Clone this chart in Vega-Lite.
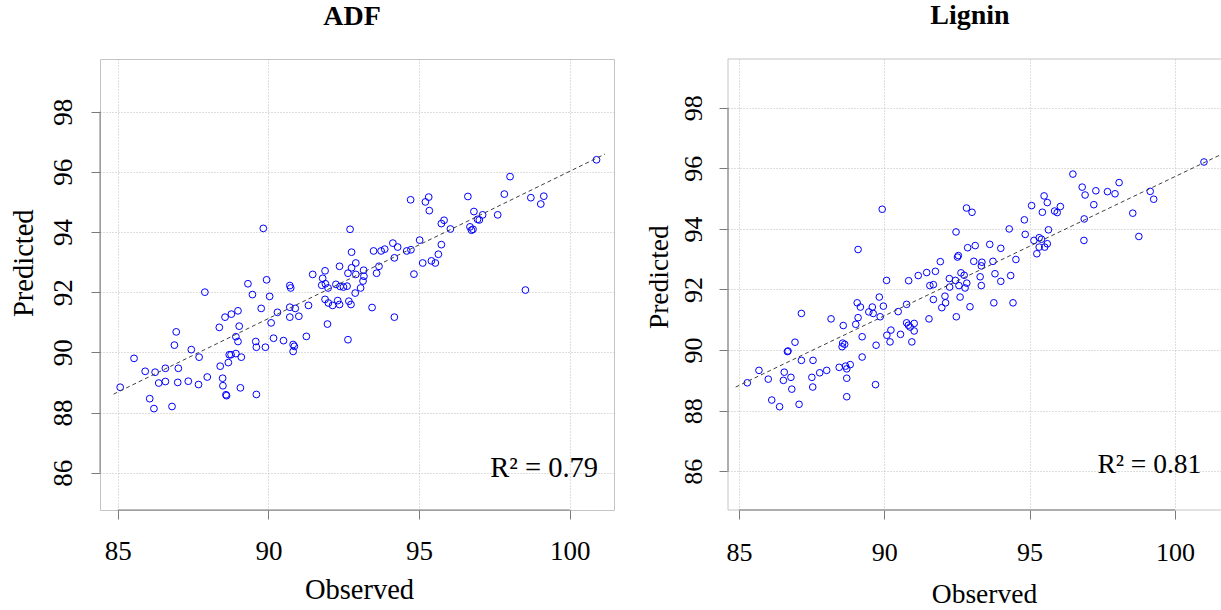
{
  "$schema": "https://vega.github.io/schema/vega-lite/v6.json",
  "background": "white",
  "padding": {"left": 8, "top": 2, "right": 0, "bottom": 0},
  "bounds": "flush",
  "spacing": 114,
  "config": {
    "font": "Liberation Serif",
    "view": {"stroke": "#c4c4c4"},
    "axis": {
      "labelFont": "Liberation Serif",
      "titleFont": "Liberation Serif",
      "labelColor": "#000000",
      "titleColor": "#000000",
      "titleFontWeight": "normal",
      "domain": false,
      "tickColor": "#7a7a7a",
      "tickSize": 9,
      "tickWidth": 1,
      "grid": true,
      "gridColor": "#bdbdbd",
      "gridDash": [1, 2],
      "gridWidth": 1,
      "labelFlush": false,
      "labelOverlap": false
    },
    "axisX": {"labelAngle": 0, "labelAlign": "center", "labelBaseline": "alphabetic", "titleBaseline": "alphabetic", "titleAlign": "center"},
    "axisY": {"labelAngle": -90, "labelAlign": "center", "labelBaseline": "alphabetic", "titleAngle": -90, "titleBaseline": "alphabetic", "titleAlign": "center"},
    "title": {"font": "Liberation Serif", "fontSize": 28, "fontWeight": "bold", "color": "#000000", "baseline": "alphabetic", "anchor": "middle", "frame": "group"}
  },
  "datasets": {
    "one": [{}],
    "adf": [
      {"obs": 89.83, "pred": 94.12}, {"obs": 92.71, "pred": 94.09}, {"obs": 92.76, "pred": 93.33}, {"obs": 92.36, "pred": 92.86},
      {"obs": 92.90, "pred": 92.97}, {"obs": 92.76, "pred": 92.81}, {"obs": 91.88, "pred": 92.71}, {"obs": 91.47, "pred": 92.59},
      {"obs": 92.64, "pred": 92.63}, {"obs": 92.90, "pred": 92.59}, {"obs": 91.80, "pred": 92.46}, {"obs": 89.94, "pred": 92.41},
      {"obs": 89.32, "pred": 92.28}, {"obs": 90.71, "pred": 92.22}, {"obs": 90.74, "pred": 92.14}, {"obs": 91.77, "pred": 92.23},
      {"obs": 91.89, "pred": 92.28}, {"obs": 91.98, "pred": 92.14}, {"obs": 92.24, "pred": 92.26}, {"obs": 92.38, "pred": 92.19},
      {"obs": 92.49, "pred": 92.17}, {"obs": 92.61, "pred": 92.20}, {"obs": 92.88, "pred": 91.97}, {"obs": 87.89, "pred": 92.00},
      {"obs": 89.47, "pred": 91.92}, {"obs": 90.04, "pred": 91.86}, {"obs": 91.88, "pred": 91.76}, {"obs": 91.99, "pred": 91.64},
      {"obs": 92.13, "pred": 91.56}, {"obs": 92.30, "pred": 91.72}, {"obs": 92.36, "pred": 91.59}, {"obs": 92.67, "pred": 91.70},
      {"obs": 92.74, "pred": 91.59}, {"obs": 89.76, "pred": 91.46}, {"obs": 88.99, "pred": 91.38}, {"obs": 88.77, "pred": 91.27},
      {"obs": 88.56, "pred": 91.17}, {"obs": 90.30, "pred": 91.33}, {"obs": 90.71, "pred": 91.50}, {"obs": 90.89, "pred": 91.46},
      {"obs": 90.71, "pred": 91.17}, {"obs": 91.01, "pred": 91.20}, {"obs": 91.33, "pred": 91.56}, {"obs": 88.37, "pred": 90.83},
      {"obs": 89.03, "pred": 90.87}, {"obs": 90.09, "pred": 90.98}, {"obs": 91.96, "pred": 90.94}, {"obs": 86.94, "pred": 90.68},
      {"obs": 86.88, "pred": 90.24}, {"obs": 88.92, "pred": 90.52}, {"obs": 88.99, "pred": 90.36}, {"obs": 89.58, "pred": 90.36},
      {"obs": 89.60, "pred": 90.17}, {"obs": 89.90, "pred": 90.17}, {"obs": 90.17, "pred": 90.47}, {"obs": 90.50, "pred": 90.39},
      {"obs": 90.82, "pred": 90.26}, {"obs": 90.86, "pred": 90.20}, {"obs": 90.82, "pred": 90.03}, {"obs": 91.26, "pred": 90.53},
      {"obs": 92.64, "pred": 90.42}, {"obs": 87.44, "pred": 90.09}, {"obs": 87.70, "pred": 89.84}, {"obs": 85.54, "pred": 89.80},
      {"obs": 88.70, "pred": 89.92}, {"obs": 88.76, "pred": 89.92}, {"obs": 88.92, "pred": 89.96}, {"obs": 89.10, "pred": 89.84},
      {"obs": 88.67, "pred": 89.66}, {"obs": 88.40, "pred": 89.54}, {"obs": 85.91, "pred": 89.37}, {"obs": 86.24, "pred": 89.34},
      {"obs": 86.58, "pred": 89.47}, {"obs": 87.01, "pred": 89.47}, {"obs": 86.36, "pred": 88.98}, {"obs": 86.58, "pred": 89.03},
      {"obs": 86.99, "pred": 89.00}, {"obs": 87.34, "pred": 89.04}, {"obs": 87.68, "pred": 88.93}, {"obs": 87.97, "pred": 89.18},
      {"obs": 88.48, "pred": 89.14}, {"obs": 88.49, "pred": 88.89}, {"obs": 89.07, "pred": 88.82}, {"obs": 85.08, "pred": 88.84},
      {"obs": 86.06, "pred": 88.46}, {"obs": 86.20, "pred": 88.13}, {"obs": 86.80, "pred": 88.20}, {"obs": 88.59, "pred": 88.59},
      {"obs": 88.61, "pred": 88.56}, {"obs": 89.60, "pred": 88.60},
      {"obs": 100.89, "pred": 96.40}, {"obs": 98.02, "pred": 95.84}, {"obs": 97.83, "pred": 95.26}, {"obs": 98.71, "pred": 95.14},
      {"obs": 99.14, "pred": 95.19}, {"obs": 99.04, "pred": 94.93}, {"obs": 96.62, "pred": 95.18}, {"obs": 94.72, "pred": 95.07},
      {"obs": 95.21, "pred": 95.00}, {"obs": 95.32, "pred": 95.16}, {"obs": 95.34, "pred": 94.71}, {"obs": 96.82, "pred": 94.68},
      {"obs": 97.11, "pred": 94.57}, {"obs": 96.94, "pred": 94.42}, {"obs": 97.00, "pred": 94.40}, {"obs": 97.61, "pred": 94.57},
      {"obs": 95.83, "pred": 94.39}, {"obs": 95.74, "pred": 94.28}, {"obs": 96.04, "pred": 94.10}, {"obs": 96.69, "pred": 94.17},
      {"obs": 96.74, "pred": 94.06}, {"obs": 96.79, "pred": 94.09}, {"obs": 95.02, "pred": 93.73}, {"obs": 94.13, "pred": 93.63},
      {"obs": 94.29, "pred": 93.50}, {"obs": 93.49, "pred": 93.37}, {"obs": 93.74, "pred": 93.37}, {"obs": 93.86, "pred": 93.43},
      {"obs": 94.59, "pred": 93.37}, {"obs": 94.73, "pred": 93.41}, {"obs": 95.74, "pred": 93.58}, {"obs": 94.18, "pred": 93.14},
      {"obs": 95.64, "pred": 93.26}, {"obs": 95.12, "pred": 92.97}, {"obs": 95.41, "pred": 93.04}, {"obs": 95.54, "pred": 92.97},
      {"obs": 93.67, "pred": 92.86}, {"obs": 93.16, "pred": 92.73}, {"obs": 93.59, "pred": 92.63}, {"obs": 94.83, "pred": 92.60},
      {"obs": 93.17, "pred": 92.53}, {"obs": 93.06, "pred": 92.14}, {"obs": 98.53, "pred": 92.07}, {"obs": 93.44, "pred": 91.49},
      {"obs": 94.18, "pred": 91.17}, {"obs": 93.14, "pred": 92.37}
    ],
    "lignin": [
      {"obs": 89.93, "pred": 94.65}, {"obs": 92.83, "pred": 94.69}, {"obs": 93.02, "pred": 94.55}, {"obs": 92.47, "pred": 93.90},
      {"obs": 89.10, "pred": 93.32}, {"obs": 92.87, "pred": 93.38}, {"obs": 93.13, "pred": 93.45}, {"obs": 91.93, "pred": 92.92},
      {"obs": 92.52, "pred": 93.07}, {"obs": 92.55, "pred": 93.12}, {"obs": 93.08, "pred": 92.93}, {"obs": 91.76, "pred": 92.60},
      {"obs": 91.46, "pred": 92.56}, {"obs": 91.17, "pred": 92.46}, {"obs": 90.84, "pred": 92.29}, {"obs": 90.08, "pred": 92.30},
      {"obs": 92.64, "pred": 92.55}, {"obs": 92.75, "pred": 92.47}, {"obs": 92.24, "pred": 92.36}, {"obs": 92.45, "pred": 92.30},
      {"obs": 92.84, "pred": 92.21}, {"obs": 91.57, "pred": 92.13}, {"obs": 91.69, "pred": 92.16}, {"obs": 92.57, "pred": 92.13},
      {"obs": 92.78, "pred": 92.05}, {"obs": 92.25, "pred": 92.08},
      {"obs": 101.00, "pred": 96.21}, {"obs": 96.49, "pred": 95.81}, {"obs": 96.81, "pred": 95.38}, {"obs": 96.91, "pred": 95.12},
      {"obs": 97.28, "pred": 95.26}, {"obs": 97.68, "pred": 95.23}, {"obs": 97.94, "pred": 95.16}, {"obs": 98.08, "pred": 95.53},
      {"obs": 99.15, "pred": 95.24}, {"obs": 99.27, "pred": 94.98}, {"obs": 98.55, "pred": 94.52}, {"obs": 98.76, "pred": 93.75},
      {"obs": 97.21, "pred": 94.80}, {"obs": 96.88, "pred": 94.33}, {"obs": 96.87, "pred": 93.62}, {"obs": 95.50, "pred": 95.09},
      {"obs": 95.61, "pred": 94.87}, {"obs": 95.07, "pred": 94.77}, {"obs": 95.44, "pred": 94.55}, {"obs": 95.86, "pred": 94.59},
      {"obs": 95.95, "pred": 94.54}, {"obs": 96.06, "pred": 94.74}, {"obs": 94.82, "pred": 94.30}, {"obs": 94.30, "pred": 94.00},
      {"obs": 94.85, "pred": 93.82}, {"obs": 95.65, "pred": 93.97}, {"obs": 95.15, "pred": 93.62}, {"obs": 95.33, "pred": 93.71},
      {"obs": 95.41, "pred": 93.66}, {"obs": 95.61, "pred": 93.51}, {"obs": 95.52, "pred": 93.40}, {"obs": 95.33, "pred": 93.40},
      {"obs": 95.25, "pred": 93.18}, {"obs": 94.53, "pred": 92.99}, {"obs": 94.01, "pred": 93.36}, {"obs": 93.63, "pred": 93.49},
      {"obs": 93.36, "pred": 92.90}, {"obs": 93.34, "pred": 92.78}, {"obs": 93.74, "pred": 92.93}, {"obs": 93.81, "pred": 92.52},
      {"obs": 93.30, "pred": 92.42}, {"obs": 94.35, "pred": 92.46}, {"obs": 94.01, "pred": 92.27}, {"obs": 93.34, "pred": 92.13},
      {"obs": 92.61, "pred": 91.75}, {"obs": 92.95, "pred": 91.43}, {"obs": 92.09, "pred": 91.78}, {"obs": 92.11, "pred": 91.56},
      {"obs": 91.98, "pred": 91.40}, {"obs": 92.48, "pred": 91.10}, {"obs": 91.69, "pred": 91.67}, {"obs": 91.54, "pred": 91.03},
      {"obs": 89.83, "pred": 91.75}, {"obs": 89.97, "pred": 91.45}, {"obs": 89.59, "pred": 91.42}, {"obs": 89.62, "pred": 91.21},
      {"obs": 89.47, "pred": 91.26}, {"obs": 89.07, "pred": 91.56}, {"obs": 89.18, "pred": 91.42}, {"obs": 89.86, "pred": 91.10},
      {"obs": 89.10, "pred": 91.07}, {"obs": 89.02, "pred": 90.85}, {"obs": 88.59, "pred": 90.81}, {"obs": 88.17, "pred": 91.03},
      {"obs": 87.15, "pred": 91.21}, {"obs": 90.48, "pred": 91.27}, {"obs": 90.77, "pred": 91.51}, {"obs": 90.77, "pred": 90.90},
      {"obs": 90.83, "pred": 90.82}, {"obs": 91.03, "pred": 90.88}, {"obs": 90.89, "pred": 90.76}, {"obs": 91.03, "pred": 90.63},
      {"obs": 90.95, "pred": 90.27}, {"obs": 90.56, "pred": 90.52}, {"obs": 90.23, "pred": 90.66}, {"obs": 90.09, "pred": 90.49},
      {"obs": 90.20, "pred": 90.27}, {"obs": 89.72, "pred": 90.16}, {"obs": 89.24, "pred": 90.44}, {"obs": 89.24, "pred": 89.77},
      {"obs": 89.70, "pred": 88.86}, {"obs": 88.57, "pred": 90.23}, {"obs": 88.64, "pred": 90.19}, {"obs": 88.55, "pred": 90.11},
      {"obs": 86.93, "pred": 90.26}, {"obs": 86.67, "pred": 89.95}, {"obs": 86.69, "pred": 89.97}, {"obs": 87.15, "pred": 89.66},
      {"obs": 87.55, "pred": 89.66}, {"obs": 85.69, "pred": 89.33}, {"obs": 86.01, "pred": 89.04}, {"obs": 85.29, "pred": 88.92},
      {"obs": 86.56, "pred": 89.27}, {"obs": 86.53, "pred": 89.00}, {"obs": 86.79, "pred": 89.10}, {"obs": 86.82, "pred": 88.71},
      {"obs": 86.13, "pred": 88.35}, {"obs": 86.40, "pred": 88.13}, {"obs": 87.07, "pred": 88.21}, {"obs": 87.51, "pred": 89.10},
      {"obs": 87.54, "pred": 88.78}, {"obs": 87.78, "pred": 89.25}, {"obs": 88.02, "pred": 89.33}, {"obs": 88.45, "pred": 89.43},
      {"obs": 88.67, "pred": 89.47}, {"obs": 88.83, "pred": 89.52}, {"obs": 88.71, "pred": 89.38}, {"obs": 88.71, "pred": 89.07},
      {"obs": 88.71, "pred": 88.46}, {"obs": 93.77, "pred": 91.56}, {"obs": 94.43, "pred": 91.56}
    ],
    "adf_fit": [{"obs": 84.86, "pred": 88.61}, {"obs": 101.17, "pred": 96.59}],
    "lignin_fit": [{"obs": 84.89, "pred": 88.78}, {"obs": 101.53, "pred": 96.43}]
  },
  "hconcat": [
    {
      "title": {"text": "ADF", "offset": 28.3, "dx": -5},
      "width": 514,
      "height": 451,
      "layer": [
        {
          "data": {"name": "adf"},
          "mark": {"type": "point", "shape": "circle", "filled": false, "stroke": "#0000ff", "strokeWidth": 1, "size": 46, "opacity": 1},
          "encoding": {
            "x": {"field": "obs", "type": "quantitative", "scale": {"domain": [84.41, 101.47], "nice": false, "zero": false},
                  "axis": {"title": "Observed", "values": [85, 90, 95, 100], "labelFontSize": 27, "titleFontSize": 28.5, "labelPadding": 40, "titleX": 259, "titleY": 88.7}},
            "y": {"field": "pred", "type": "quantitative", "scale": {"domain": [84.76, 99.75], "nice": false, "zero": false},
                  "axis": {"title": "Predicted", "values": [86, 88, 90, 92, 94, 96, 98], "labelFontSize": 27, "titleFontSize": 28.5, "labelPadding": 19.5, "titleX": -67.6, "titleY": 203.7}}
          }
        },
        {
          "data": {"name": "adf_fit"},
          "mark": {"type": "line", "stroke": "#404040", "strokeWidth": 1, "strokeDash": [4, 3]},
          "encoding": {
            "x": {"field": "obs", "type": "quantitative"},
            "y": {"field": "pred", "type": "quantitative"}
          }
        },
        {
          "data": {"name": "one"},
          "mark": {"type": "rule", "stroke": "#7a7a7a", "strokeWidth": 1},
          "encoding": {
            "x": {"datum": 85, "type": "quantitative"},
            "x2": {"datum": 100},
            "y": {"datum": 84.76, "type": "quantitative"}
          }
        },
        {
          "data": {"name": "one"},
          "mark": {"type": "rule", "stroke": "#7a7a7a", "strokeWidth": 1},
          "encoding": {
            "x": {"datum": 84.41, "type": "quantitative"},
            "y": {"datum": 86, "type": "quantitative"},
            "y2": {"datum": 98}
          }
        },
        {
          "data": {"name": "one"},
          "mark": {"type": "text", "text": "R² = 0.79", "align": "right", "baseline": "alphabetic", "font": "Liberation Serif", "fontSize": 28.5, "color": "#000000"},
          "encoding": {
            "x": {"datum": 100.94, "type": "quantitative"},
            "y": {"datum": 85.87, "type": "quantitative"}
          }
        }
      ]
    },
    {
      "title": {"text": "Lignin", "offset": 28.3, "dx": -5},
      "width": 494,
      "height": 451,
      "view": {"stroke": null},
      "layer": [
        {
          "data": {"name": "lignin"},
          "mark": {"type": "point", "shape": "circle", "filled": false, "stroke": "#0000ff", "strokeWidth": 1, "size": 44, "opacity": 1},
          "encoding": {
            "x": {"field": "obs", "type": "quantitative", "scale": {"domain": [84.625, 101.62], "nice": false, "zero": false},
                  "axis": {"title": "Observed", "values": [85, 90, 95, 100], "labelFontSize": 26, "titleFontSize": 27.5, "labelPadding": 41, "titleX": 256, "titleY": 92.4}},
            "y": {"field": "pred", "type": "quantitative", "scale": {"domain": [84.72, 99.61], "nice": false, "zero": false},
                  "axis": {"title": "Predicted", "values": [86, 88, 90, 92, 94, 96, 98], "labelFontSize": 26, "titleFontSize": 27.5, "labelPadding": 17.5, "titleX": -60.4, "titleY": 217.7}}
          }
        },
        {
          "data": {"name": "lignin_fit"},
          "mark": {"type": "line", "stroke": "#404040", "strokeWidth": 1, "strokeDash": [4, 3]},
          "encoding": {
            "x": {"field": "obs", "type": "quantitative"},
            "y": {"field": "pred", "type": "quantitative"}
          }
        },
        {
          "data": {"name": "one"},
          "mark": {"type": "rule", "stroke": "#c4c4c4", "strokeWidth": 1},
          "encoding": {
            "x": {"datum": 84.625, "type": "quantitative"},
            "x2": {"datum": 101.62},
            "y": {"datum": 99.61, "type": "quantitative"}
          }
        },
        {
          "data": {"name": "one"},
          "mark": {"type": "rule", "stroke": "#c4c4c4", "strokeWidth": 1},
          "encoding": {
            "x": {"datum": 84.625, "type": "quantitative"},
            "x2": {"datum": 101.62},
            "y": {"datum": 84.72, "type": "quantitative"}
          }
        },
        {
          "data": {"name": "one"},
          "mark": {"type": "rule", "stroke": "#c4c4c4", "strokeWidth": 1},
          "encoding": {
            "x": {"datum": 84.625, "type": "quantitative"},
            "y": {"datum": 84.72, "type": "quantitative"},
            "y2": {"datum": 99.61}
          }
        },
        {
          "data": {"name": "one"},
          "mark": {"type": "rule", "stroke": "#7a7a7a", "strokeWidth": 1},
          "encoding": {
            "x": {"datum": 85, "type": "quantitative"},
            "x2": {"datum": 100},
            "y": {"datum": 84.72, "type": "quantitative"}
          }
        },
        {
          "data": {"name": "one"},
          "mark": {"type": "rule", "stroke": "#7a7a7a", "strokeWidth": 1},
          "encoding": {
            "x": {"datum": 84.625, "type": "quantitative"},
            "y": {"datum": 86, "type": "quantitative"},
            "y2": {"datum": 98}
          }
        },
        {
          "data": {"name": "one"},
          "mark": {"type": "text", "text": "R² = 0.81", "align": "right", "baseline": "alphabetic", "font": "Liberation Serif", "fontSize": 27.5, "color": "#000000"},
          "encoding": {
            "x": {"datum": 100.91, "type": "quantitative"},
            "y": {"datum": 85.93, "type": "quantitative"}
          }
        }
      ]
    }
  ]
}
